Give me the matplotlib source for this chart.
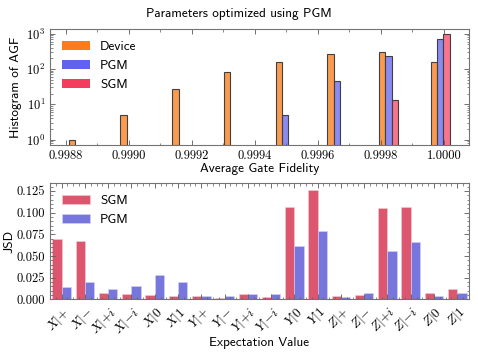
import numpy as np
import matplotlib
matplotlib.use("Agg")
from matplotlib import pyplot as plt
from matplotlib.patches import Patch
from matplotlib.ticker import MultipleLocator, FormatStrFormatter, AutoMinorLocator

plt.rcParams['font.family'] = ['cmss10', 'DejaVu Sans']
plt.rcParams['mathtext.fontset'] = 'cm'
plt.rcParams['axes.formatter.use_mathtext'] = True
plt.rcParams['font.size'] = 10

# histogram of average gate fidelity
bin_edges = [0.998758, 0.998922, 0.999086, 0.999250, 0.999414,
             0.999578, 0.999742, 0.999906, 1.000070]
device_counts = [1, 5, 27, 82, 160, 270, 300, 155]
pgm_counts = [0, 0, 0, 0, 5, 45, 240, 710]
sgm_counts = [0, 0, 0, 0, 0, 0, 13, 987]
hist_labels = ["Device", "PGM", "SGM"]

# JSD per expectation value
expectations = ["X|{+}", "X|{-}", "X|{+}i", "X|{-}i", "X|0", "X|1",
                "Y|{+}", "Y|{-}", "Y|{+}i", "Y|{-}i", "Y|0", "Y|1",
                "Z|{+}", "Z|{-}", "Z|{+}i", "Z|{-}i", "Z|0", "Z|1"]
jsd_sgm = [0.0694, 0.0675, 0.0069, 0.0057, 0.0052, 0.0035,
           0.0035, 0.0012, 0.0060, 0.0030, 0.1066, 0.1262,
           0.0040, 0.0046, 0.1051, 0.1059, 0.0069, 0.0115]
jsd_pgm = [0.0138, 0.0196, 0.0119, 0.0149, 0.0283, 0.0199,
           0.0040, 0.0044, 0.0057, 0.0057, 0.0621, 0.0786,
           0.0027, 0.0077, 0.0560, 0.0663, 0.0038, 0.0077]

hist_colors = ['#f99a50', '#8a8af0', '#f8738c']
hist_legend_colors = ['#ff7a1a', '#6262f0', '#f43c5e']
sgm_color = '#dd566f'
pgm_color = '#7676dd'

fig = plt.figure(figsize=(4.78, 3.59), dpi=100)
ax1 = fig.add_axes([0.1046, 0.596, 0.8764, 0.323])
ax2 = fig.add_axes([0.1046, 0.166, 0.8764, 0.324])

def style_axis(ax):
    ax.tick_params(which='both', direction='in', top=True, right=True,
                   color='0.35', labelfontfamily='cmr10', labelsize=9, pad=3.4)
    ax.tick_params(which='major', length=3.5, width=0.6)
    ax.tick_params(which='minor', length=1.8, width=0.5)
    for s in ax.spines.values():
        s.set_edgecolor('0.45')
        s.set_linewidth(0.8)

edges = np.array(bin_edges)
centers = (edges[:-1] + edges[1:]) / 2
ax1.hist([centers] * 3, bins=edges,
         weights=[device_counts, pgm_counts, sgm_counts],
         rwidth=0.37, log=True, color=hist_colors,
         edgecolor='0.25', linewidth=0.8)
ax1.set_xlim(0.99875, 1.000079)
ax1.set_ylim(0.7, 1350)
ax1.xaxis.set_major_locator(MultipleLocator(0.0002))
ax1.xaxis.set_major_formatter(FormatStrFormatter('%.4f'))
ax1.xaxis.set_minor_locator(AutoMinorLocator(2))
style_axis(ax1)
ax1.set_xlabel("Average Gate Fidelity", labelpad=1, fontsize=9.5)
ax1.set_ylabel("Histogram of AGF", labelpad=3, fontsize=9.5)
handles = [Patch(facecolor=c, edgecolor='none') for c in hist_legend_colors]
ax1.legend(handles, hist_labels, loc='upper left', frameon=False,
           fontsize=9.5, handlelength=2.1)

x = np.arange(len(expectations))
ax2.bar(x - 0.2, jsd_sgm, width=0.4, color=sgm_color, label="SGM",
        edgecolor='#f4cdd4', linewidth=0.4)
ax2.bar(x + 0.2, jsd_pgm, width=0.4, color=pgm_color, label="PGM",
        edgecolor='#d4d4f6', linewidth=0.4)
ax2.set_xlim(-0.5, len(expectations) - 0.5)
ax2.set_ylim(0, 0.134)
ax2.yaxis.set_major_locator(MultipleLocator(0.025))
ax2.yaxis.set_major_formatter(FormatStrFormatter('%.3f'))
ax2.yaxis.set_minor_locator(AutoMinorLocator(5))
ax2.set_xticks(x)
ax2.set_xticklabels(["$" + e + "$" for e in expectations],
                    rotation=45, ha='right', rotation_mode='anchor')
ax2.xaxis.set_minor_locator(AutoMinorLocator(4))
style_axis(ax2)
ax2.tick_params(axis='x', labelsize=9.5)
ax2.set_xlabel("Expectation Value", fontsize=9.5)
ax2.xaxis.set_label_coords(0.5, -0.32)
ax2.set_ylabel("JSD", labelpad=1, fontsize=9.5)
ax2.legend(loc='upper left', frameon=False, fontsize=9.5, handlelength=2.1)

fig.suptitle("Parameters optimized using PGM", x=0.5, y=0.978, fontsize=9.5)

fig.savefig("out.png", dpi=100)
